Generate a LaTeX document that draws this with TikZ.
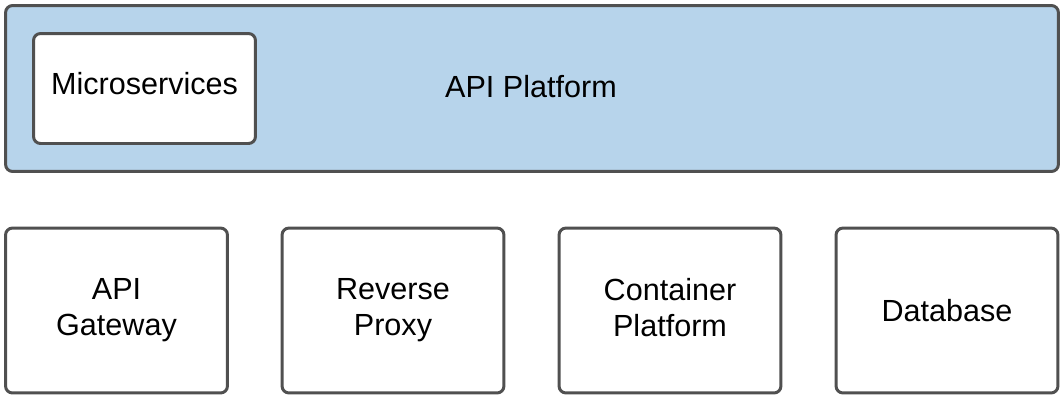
\documentclass[tikz,border=0pt]{standalone}
\usepackage{fontspec}
\setmainfont{Liberation Sans}
\definecolor{platformblue}{RGB}{183,212,235}
\definecolor{edgegray}{RGB}{80,80,80}
\tikzset{
  box/.style={draw=edgegray, line width=1.7pt, rounded corners=4pt, fill=white,
    align=center, inner sep=0pt, font=\fontsize{17.4}{20.5}\selectfont},
  compbox/.style={box, minimum width=4.44cm, minimum height=3.3cm}
}
\begin{document}
\begin{tikzpicture}[x=0.02cm, y=-0.02cm]
  \useasboundingbox (0,0) rectangle (1063,400);

  %%%%%%%%%%%Draw the platform%%%%%%%%%%%
  \node[box, fill=platformblue, minimum width=21.06cm, minimum height=3.32cm] (platform) at (532,88.5) {};
  \node[font=\fontsize{17.4}{20.5}\selectfont] (platformlabel) at (531,87) {API Platform};
  \node[box, minimum width=4.44cm, minimum height=2.2cm] (micro) at (144.5,88.5) {\raisebox{6pt}{Microservices}};

  %%%%%%%%%%%Draw the components%%%%%%%%%
  \node[compbox] (gateway) at (116.5,310.5) {API\\Gateway};
  \node[compbox] (proxy) at (393,310.5) {Reverse\\Proxy};
  \node[compbox] (container) at (670,310.5) {\raisebox{4pt}{Container}\\\raisebox{4pt}{Platform}};
  \node[compbox] (database) at (947,310.5) {Database};
\end{tikzpicture}
\end{document}
